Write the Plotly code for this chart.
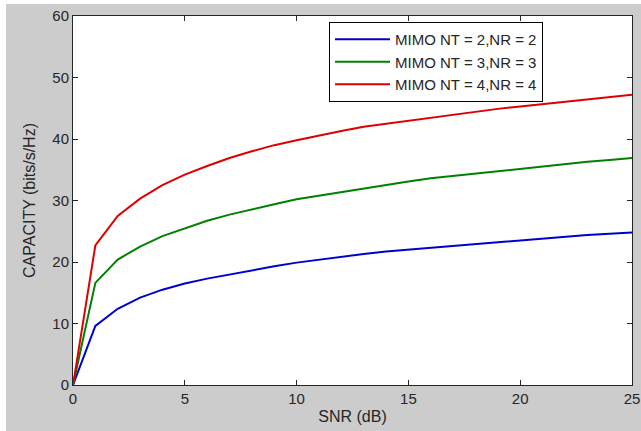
import plotly.graph_objects as go

snr_db = list(range(0, 26))
cap_2x2 = [0, 9.6, 12.4, 14.2, 15.5, 16.5, 17.3, 18.0, 18.7, 19.3, 19.9, 20.4, 20.8, 21.3, 21.7,
           22.0, 22.4, 22.7, 23.0, 23.3, 23.6, 23.9, 24.1, 24.4, 24.6, 24.8]
cap_3x3 = [0, 16.6, 20.4, 22.5, 24.2, 25.5, 26.7, 27.7, 28.6, 29.4, 30.2, 30.8, 31.4, 32.0, 32.6,
           33.1, 33.6, 34.0, 34.4, 34.8, 35.2, 35.6, 35.9, 36.3, 36.6, 36.9]
cap_4x4 = [0, 22.7, 27.5, 30.3, 32.5, 34.2, 35.6, 36.9, 38.0, 39.0, 39.8, 40.6, 41.3, 42.0, 42.5,
           42.9, 43.5, 44.0, 44.5, 44.9, 45.3, 45.7, 46.1, 46.5, 46.9, 47.2]
names = ["MIMO NT = 2,NR = 2", "MIMO NT = 3,NR = 3", "MIMO NT = 4,NR = 4"]
colors = ["#0000cc", "#008000", "#dd0000"]

fig = go.Figure()
for name, ys, c in zip(names, [cap_2x2, cap_3x3, cap_4x4], colors):
    fig.add_trace(go.Scatter(x=snr_db, y=ys, mode="lines", name=name,
                             line=dict(color=c, width=2)))

W, H = 641, 431
L, R, T, B = 73, 9, 16, 46
pw, ph = W - L - R, H - T - B

axis_common = dict(showline=True, linecolor="#262626", linewidth=1, mirror="ticks",
                   ticks="inside", ticklen=5, tickcolor="#262626", showgrid=False,
                   zeroline=False, automargin=False,
                   tickfont=dict(size=15, color="#262626"))

fig.update_layout(
    width=W, height=H,
    margin=dict(l=L, r=R, t=T, b=B, pad=0, autoexpand=False),
    paper_bgcolor="#cccccc", plot_bgcolor="white",
    font=dict(family="Liberation Sans, Arial, sans-serif", color="#262626"),
    xaxis=dict(range=[0, 25], tickvals=[0, 5, 10, 15, 20, 25],
               title=dict(text="SNR (dB)", font=dict(size=16), standoff=4), **axis_common),
    yaxis=dict(range=[0, 60], tickvals=[0, 10, 20, 30, 40, 50, 60],
               title=dict(text="CAPACITY (bits/s/Hz)", font=dict(size=16), standoff=12), **axis_common),
    legend=dict(x=(329 - L) / pw, y=1 - (22 - T) / ph, xanchor="left", yanchor="top",
                bgcolor="white", bordercolor="#000000", borderwidth=1,
                font=dict(size=15, color="#262626"), itemwidth=55, tracegroupgap=0),
    showlegend=True,
    shapes=[
        dict(type="rect", xref="paper", yref="paper", x0=-L / pw, x1=(6 - L) / pw,
             y0=-B / ph, y1=1 + T / ph, fillcolor="white", line=dict(width=0), layer="below"),
        dict(type="rect", xref="paper", yref="paper", x0=-L / pw, x1=1 + R / pw,
             y0=1 + (T - 4) / ph, y1=1 + T / ph, fillcolor="white", line=dict(width=0), layer="below"),
    ],
)
fig.write_html("out.html")
